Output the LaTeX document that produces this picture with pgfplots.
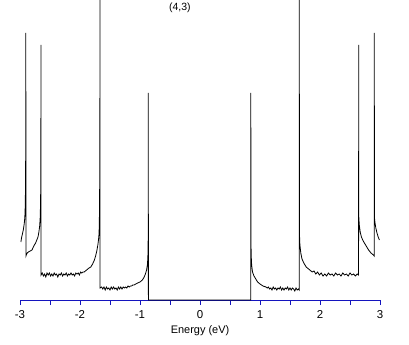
\documentclass[border=0pt]{standalone}
\usepackage{fontspec}
\setmainfont{Liberation Sans}
\usepackage{pgfplots}
\pgfplotsset{compat=1.18}
\definecolor{axblue}{RGB}{20,20,190}
\pgfplotstableread{
E D
-2.985 58
-2.975 62
-2.96 66
-2.945 70
-2.93 76
-2.92 82
-2.912 95
-2.907 120
-2.904 170
-2.903 267
-2.901 44
-2.895 45
-2.88 47
-2.86 48
-2.83 49
-2.80 50
-2.77 54
-2.74 57
-2.72 60
-2.70 63
-2.685 68
-2.672 74
-2.664 82
-2.658 95
-2.654 115
-2.652 150
-2.651 255
-2.649 25
-2.63 27
-2.61 24
-2.59 26
-2.57 23
-2.55 27
-2.53 25
-2.51 27
-2.49 24
-2.47 26
-2.45 24
-2.43 27
-2.41 25
-2.39 26
-2.37 23
-2.35 26
-2.33 25
-2.31 27
-2.29 24
-2.27 26
-2.25 25
-2.23 27
-2.21 24
-2.19 26
-2.17 25
-2.15 27
-2.13 25
-2.11 26
-2.09 24
-2.07 27
-2.05 26
-2.03 27
-2.01 25
-1.99 28
-1.97 27
-1.95 28
-1.93 28
-1.91 29
-1.89 30
-1.87 31
-1.85 32
-1.82 33
-1.79 36
-1.76 40
-1.74 44
-1.72 49
-1.70 56
-1.69 61
-1.682 67
-1.676 85
-1.672 115
-1.669 157
-1.667 300
-1.665 12
-1.64 13
-1.62 11
-1.60 13
-1.58 10
-1.56 13
-1.54 11
-1.52 12
-1.50 10
-1.48 13
-1.46 11
-1.44 13
-1.42 11
-1.40 12
-1.38 10
-1.36 13
-1.34 11
-1.32 13
-1.30 11
-1.28 13
-1.26 12
-1.24 13
-1.22 12
-1.20 14
-1.18 13
-1.16 14
-1.14 14
-1.12 15
-1.10 15
-1.07 16
-1.04 17
-1.00 18
-0.96 20
-0.93 23
-0.91 26
-0.89 30
-0.875 36
-0.868 45
-0.864 60
-0.862 207
-0.860 0
0.845 0
0.847 207
0.849 63
0.853 45
0.861 35
0.875 28
0.90 24
0.93 21
0.96 18
1.00 16
1.05 14
1.10 13
1.12 12
1.14 13
1.16 11
1.18 12
1.20 10
1.22 13
1.24 11
1.26 12
1.28 10
1.30 12
1.32 11
1.34 13
1.36 10
1.38 12
1.40 10
1.42 12
1.44 11
1.46 13
1.48 10
1.50 12
1.52 10
1.54 12
1.56 11
1.58 9
1.60 12
1.62 10
1.64 11
1.653 10
1.655 300
1.657 67
1.665 55
1.68 47
1.70 41
1.73 37
1.77 33
1.83 30
1.87 28
1.90 29
1.93 26
1.96 28
1.99 25
2.02 27
2.05 24
2.08 26
2.11 24
2.14 27
2.17 25
2.20 26
2.23 24
2.26 27
2.29 25
2.32 26
2.35 24
2.38 27
2.41 25
2.44 26
2.47 24
2.50 27
2.53 25
2.56 26
2.59 24
2.62 26
2.643 25
2.645 255
2.647 83
2.655 75
2.67 68
2.69 63
2.72 59
2.76 55
2.81 50
2.85 47
2.89 45
2.903 44
2.905 267
2.907 83
2.915 78
2.93 72
2.95 67
2.97 63
2.99 60
}\dostable
\begin{document}
\begin{tikzpicture}
\useasboundingbox (-20bp,-45bp) rectangle (389bp,300bp);
\begin{axis}[
  at={(0,0)}, anchor=south west,
  scale only axis, width=360bp, height=300bp,
  xmin=-3, xmax=3, ymin=0, ymax=300,
  axis x line*=bottom, hide y axis,
  x axis line style={axblue, line width=0.8pt},
  xtick={-3,-2,-1,0,1,2,3},
  minor xtick={-2.5,-1.5,-0.5,0.5,1.5,2.5},
  tick align=outside,
  major tick length=5bp, minor tick length=5bp,
  every tick/.style={axblue, line width=0.8pt},
  tick label style={font=\fontsize{11.5}{12}\selectfont, text=black, yshift=-2bp},
  /pgf/number format/assume math mode=true,
  xlabel={Energy (eV)},
  xlabel style={font=\fontsize{11}{12}\selectfont, yshift=0bp},
]
\node[font=\fontsize{10.5}{12}\selectfont] at (rel axis cs:0.444,0.973) {(4,3)};
\end{axis}
\begin{axis}[
  at={(0,0)}, anchor=south west,
  scale only axis, width=360bp, height=300bp,
  xmin=-3, xmax=3, ymin=0, ymax=300,
  hide axis, clip=false,
]
\addplot[black, line width=0.8pt] table[x=E, y=D] {\dostable};
\end{axis}
\end{tikzpicture}
\end{document}
